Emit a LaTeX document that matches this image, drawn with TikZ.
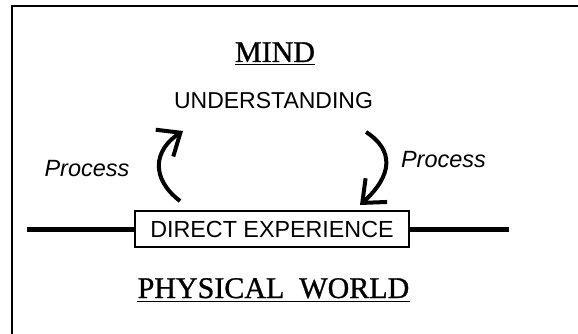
\documentclass[tikz,border=0pt]{standalone}
\usepackage{fontspec}
\setmainfont{Liberation Serif}
\setsansfont{Liberation Sans}
\newfontfamily\headfont[FakeBold=0.9]{Liberation Serif}
\usepackage{tikz}
\usetikzlibrary{arrows.meta,positioning}

\begin{document}
\begin{tikzpicture}[x=1pt, y=-1pt,
    title/.style={inner sep=0pt, anchor=base, font=\headfont\fontsize{30}{34}\selectfont},
    word/.style={inner sep=0pt, anchor=base, font=\sffamily\fontsize{23}{27}\selectfont},
    proc/.style={inner sep=0pt, anchor=base, font=\sffamily\itshape\fontsize{23.5}{27}\selectfont},
    expbox/.style={draw, line width=2pt, minimum width=274pt, minimum height=36pt,
        inner sep=0pt, text height=17pt, text depth=0pt, font=\sffamily\fontsize{23.3}{27}\selectfont},
    procarrow/.style={line width=4pt, -{Straight Barb[length=19pt, width=32pt]}}]
    \clip (0,0) rectangle (578,334);

    % 枠
    \draw[line width=2pt] (11.5,6) rectangle (620,360);

    % 見出し
    \node[title] (mind) at (275,62) {MIND};
    \draw[line width=1.5pt] ([yshift=-2.5pt]mind.base west) -- ([yshift=-2.5pt]mind.base east);
    \node[title] (world) at (273.5,298) {PHYSICAL\ \ WORLD};
    \draw[line width=1.5pt] ([yshift=-3.5pt]world.base west) -- ([yshift=-3.5pt]world.base east);

    % 中身
    \node[word] (under) at (273.5,109) {UNDERSTANDING};
    \node[expbox] (exp) at (272,229) {DIRECT EXPERIENCE};
    \node[proc] (procl) at (87,176) {Process};
    \node[proc] (procr) at (443.5,167) {Process};

    % 境界線
    \coordinate (lineL) at (27,229);
    \coordinate (lineR) at (509,229);
    \draw[line width=5pt] (lineL) -- (exp.west);
    \draw[line width=5pt] (exp.east) -- (lineR);

    % 矢印
    \coordinate (upfrom) at (180,201);
    \coordinate (upto) at (183,131);
    \coordinate (downfrom) at (366,132);
    \coordinate (downto) at (360,205);
    \draw[procarrow] (upfrom) .. controls (150,178) and (154,150) .. (upto);
    \draw[procarrow] (downfrom) .. controls (394,150) and (393,175) .. (downto);
\end{tikzpicture}
\end{document}
